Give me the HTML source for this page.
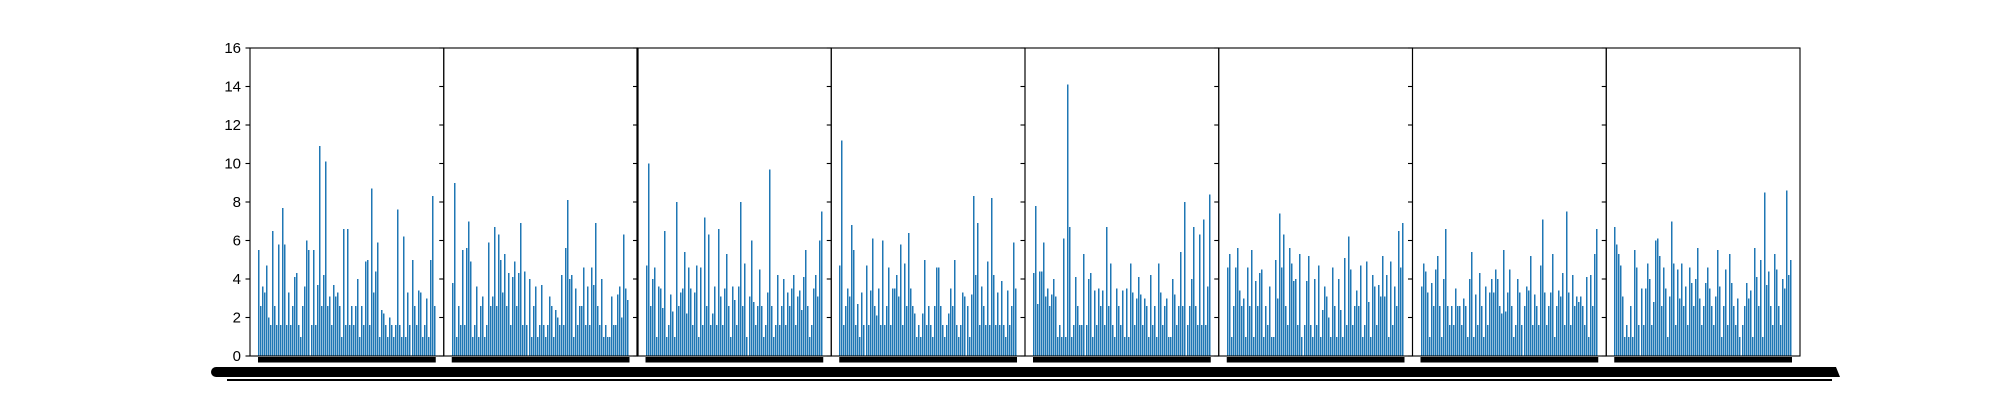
<!DOCTYPE html>
<html><head><meta charset="utf-8"><style>
html,body{margin:0;padding:0;background:#fff;}
svg{display:block;font-family:"Liberation Sans",sans-serif;}
</style></head><body>
<svg id="chart" width="2000" height="400" viewBox="0 0 2000 400" xmlns="http://www.w3.org/2000/svg">
<rect x="0" y="0" width="2000" height="400" fill="#fff"/>
<g id="panels"></g>
<g id="axes"></g>
<rect x="211" y="367" width="1624" height="10" rx="5" fill="#000"/>
<polygon points="1830,367 1836,367 1840,377 1830,377" fill="#000"/>
<rect x="227" y="379" width="1605" height="2" fill="#000"/>
</svg>
<script>
const yTicks = [0,2,4,6,8,10,12,14,16];
const panel1 = [5.5,2.6,3.6,3.3,4.7,2,1.6,6.5,2.6,1.6,5.8,1.6,7.7,5.8,1.6,3.3,1.6,2.6,4.1,4.3,1.6,1,2.6,3.6,6,5.5,1.6,5.5,1.6,3.7,10.9,2.6,4.2,10.1,2.6,3.1,1.6,3.7,3.1,3.3,2.6,1,6.6,1.6,6.6,1.6,2.6,1.6,2.6,4,1,2.6,1.6,4.9,5,1.6,8.7,3.3,4.4,5.9,1,2.4,2.2,1.6,1,2,1.6,1,1.6,7.6,1.6,1,6.2,1,3.3,1.6,5,2.6,1.6,3.4,3.3,1,1.6,3,1,5,8.3,2.6];
const panel2 = [3.8,9.0,1,2.6,1.6,5.5,1.6,5.6,7,4.9,1,1.6,3.6,1,2.6,3.1,1,1.6,5.9,2.6,3.1,6.7,2.6,6.3,5,3.3,5.3,2.6,4.3,1.6,4.1,4.9,2.6,4.3,6.9,1.6,4.4,1.6,4,1,2.6,3.6,1,1.6,3.7,1.6,1,1.6,3.1,2.6,1,2.4,2,1.6,4.2,1.6,5.6,8.1,4,4.2,1,3.5,1.6,2.6,2.6,4.6,1.6,3.6,1.6,4.6,3.7,6.9,2.6,1.6,4,1,1.6,1,1,3.1,1.6,1.6,3.2,3.6,2,6.3,3.5,2.9];
const panel3 = [4.7,10.0,2.6,4.0,4.6,1,3.6,3.5,2.5,6.5,1,1.6,3.2,2.3,1,8.0,2.6,3.3,3.5,5.4,2.2,4.6,3.5,1.6,3.3,4.7,1,4.6,1.6,7.2,2.6,6.3,1.6,2.2,3.6,1.6,6.6,3.1,1.6,3.5,5.3,2.6,1,3.6,2.9,1.6,3.6,8.0,2.6,4.8,1,3.1,6.0,2.8,1.6,2.6,4.5,2.6,1,1.6,3.3,9.7,2.6,1,1.6,4.2,1.6,2.6,4.0,1.6,3.3,2.6,3.5,4.2,1.6,3.1,3.4,2.4,4.1,5.5,2.6,1,1.6,3.5,4.2,3.1,6.0,7.5];
const panel4 = [4.7,11.2,1.6,2.6,3.5,3.1,6.8,5.5,1.6,2.7,1,3.3,1.6,4.7,1.6,3.4,6.1,2.6,2.1,3.5,1.6,6.0,1.6,2.6,4.6,1.6,3.5,3.5,4.2,3.1,5.8,1.6,4.8,2.6,6.4,3.5,2.6,2.2,1,1.6,1,2.2,5.0,1.6,2.6,1.6,1,2.6,4.6,4.6,2.6,1.6,1,1.6,2.2,3.5,2.6,5.0,1.6,1,1.6,3.3,3.1,2.6,1,3.2,8.3,4.2,6.9,1.6,3.6,2.6,1.6,4.9,1.6,8.2,4.2,1.6,3.3,1.6,3.9,1.6,1,3.4,1.6,2.6,5.9,3.5];
const panel5 = [4.3,7.8,2.7,4.4,4.4,5.9,3.1,3.5,2.6,3.2,4.0,3.1,1,1.6,1,6.1,1,14.1,6.7,1,1.6,4.1,2.6,1.6,1.6,5.3,1.6,4.0,4.3,1,3.4,1.6,3.5,2.6,3.4,1.6,6.7,2.6,4.8,1.6,1,3.5,2.6,1.6,3.4,1,3.5,1,4.8,3.3,1.6,3.0,4.1,3.2,1.6,3.0,2.6,1,4.2,1.6,2.6,1,4.8,3.3,1.6,2.6,3.0,1,1,4.0,3.2,1.6,2.6,5.4,2.6,8.0,1.6,2.6,4.0,6.7,2.6,1.6,6.3,1.6,7.1,1.6,3.6,8.4];
const panel6 = [4.6,5.3,1,2.6,4.6,5.6,3.4,2.6,3.0,1,4.6,2.6,5.5,1,3.9,2.6,4.3,4.5,1,2.6,1.6,3.6,1,1,5.0,3.0,7.4,4.6,6.3,2.6,1.6,5.6,4.8,3.9,4.0,1.6,5.3,1,1.6,3.9,5.2,1.6,1,4.0,1.6,4.7,1,2.4,3.6,3.1,2.0,1,4.6,2.6,1,4.0,2.4,1,5.1,1.6,6.2,4.5,1.6,2.6,3.4,2.6,4.7,1,1.6,4.9,2.8,1,4.2,3.6,1.6,3.7,3.1,5.2,3.1,4.2,1,4.9,1.6,3.6,2.6,6.5,4.6,6.9];
const panel7 = [3.6,4.8,4.4,3.3,1,3.8,2.6,4.5,5.2,2.6,1,4.0,6.6,2.6,1.6,2.6,1.6,3.5,2.6,2.6,1.6,3.0,2.6,1,4.0,5.4,1,3.2,1.6,4.3,2.6,1,3.6,1.6,3.3,4.0,3.3,4.5,4.0,2.6,2.2,5.5,2.3,3.3,4.5,2.6,1,1.6,4.0,3.3,1.6,2.6,3.6,3.4,5.2,1.6,3.2,2.6,1.6,4.7,7.1,3.3,1.6,2.6,3.3,5.3,1,2.6,3.4,3.1,4.3,1.6,7.5,3.3,1.6,4.2,2.6,3.1,2.8,3.1,2.6,1.6,4.1,1,4.2,2.6,5.3,6.6];
const panel8 = [6.7,5.8,5.3,4.7,3.1,1,1.6,1,2.6,1,5.5,4.6,1.6,3.5,1.6,3.5,4.8,4.0,1.6,2.8,6.0,6.1,5.2,2.6,4.6,3.5,1,3.1,7.0,4.8,1.6,4.5,3.0,4.8,2.6,3.6,1.6,4.6,3.8,2.6,4.0,5.6,3.0,1.6,2.6,3.8,4.6,3.5,2.6,1.6,3.1,5.5,3.6,1,2.6,4.5,1.6,5.3,3.8,2.6,1.6,3.0,1,1.6,2.6,3.8,3.0,3.4,1,5.6,4.1,2.6,5.0,1,8.5,3.7,4.4,2.6,1.6,5.3,4.5,2.6,1.6,4.0,3.5,8.6,4.2,5.0];
const panels = [panel1,panel2,panel3,panel4,panel5,panel6,panel7,panel8];

const NS = "http://www.w3.org/2000/svg";
const plotLeft = 250, plotRight = 1800, plotTop = 48, plotBottom = 356;
const yMax = 16;
const panelW = (plotRight - plotLeft) / panels.length;
function yScale(v){ return plotBottom - v / yMax * (plotBottom - plotTop); }
function xScale(p, i, n){ return plotLeft + p * panelW + 8 + i * (panelW - 16) / n; }

const gP = document.getElementById('panels');
const gA = document.getElementById('axes');

panels.forEach((vals, p) => {
  const g = document.createElementNS(NS, 'g');
  
  
  const n = vals.length;
  vals.forEach((v, i) => {
    if (v <= 0) return;
    const r = document.createElementNS(NS, 'rect');
    
    
    const x = Math.round(xScale(p, i, n));
    r.setAttribute('x', x);
    r.setAttribute('y', yScale(v).toFixed(2));
    r.setAttribute('width', 1.4);
    r.setAttribute('height', (plotBottom - yScale(v)).toFixed(2));
    r.setAttribute('fill', '#1f77b4');
    r.setAttribute('shape-rendering', 'crispEdges');
    g.appendChild(r);
  });
  const lb = document.createElementNS(NS, 'rect');
  
  
  lb.setAttribute('x', (plotLeft + p * panelW + 8).toFixed(2));
  lb.setAttribute('y', 357);
  lb.setAttribute('width', (panelW - 16).toFixed(2));
  lb.setAttribute('height', 5.5);
  lb.setAttribute('fill', '#000');
  g.appendChild(lb);
  gP.appendChild(g);

  const fr = document.createElementNS(NS, 'rect');
  
  
  fr.setAttribute('x', (plotLeft + p * panelW).toFixed(2));
  fr.setAttribute('y', plotTop);
  fr.setAttribute('width', panelW.toFixed(2));
  fr.setAttribute('height', plotBottom - plotTop);
  fr.setAttribute('fill', 'none');
  fr.setAttribute('stroke', '#000');
  fr.setAttribute('stroke-width', 1.1);
  gA.appendChild(fr);

  yTicks.forEach(t => {
    const tk = document.createElementNS(NS, 'line');
    
    
    const x0 = plotLeft + p * panelW;
    tk.setAttribute('x1', x0 - 4.5); tk.setAttribute('x2', x0);
    tk.setAttribute('y1', yScale(t)); tk.setAttribute('y2', yScale(t));
    tk.setAttribute('stroke', '#000'); tk.setAttribute('stroke-width', 1.1);
    gA.appendChild(tk);
  });
});

const thick = document.createElementNS(NS, 'line');


thick.setAttribute('x1', plotLeft + 2 * panelW); thick.setAttribute('x2', plotLeft + 2 * panelW);
thick.setAttribute('y1', plotTop); thick.setAttribute('y2', plotBottom);
thick.setAttribute('stroke', '#000'); thick.setAttribute('stroke-width', 2.2);
gA.appendChild(thick);

yTicks.forEach(t => {
  const tx = document.createElementNS(NS, 'text');
  
  
  tx.setAttribute('x', 241);
  tx.setAttribute('y', yScale(t) + 5);
  tx.setAttribute('text-anchor', 'end');
  tx.setAttribute('font-size', '15');
  tx.setAttribute('fill', '#000');
  tx.textContent = t;
  gA.appendChild(tx);
});
</script>
</body></html>
